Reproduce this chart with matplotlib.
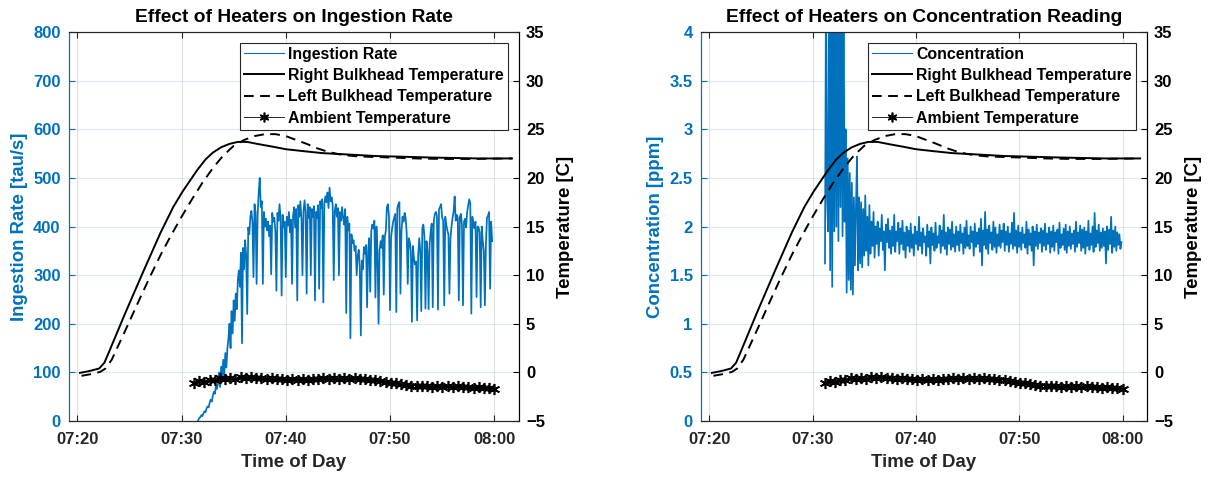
import matplotlib.pyplot as plt
import numpy as np
from matplotlib.ticker import FuncFormatter

plt.rcParams['font.family'] = ['Liberation Sans', 'DejaVu Sans']
plt.rcParams['font.weight'] = 'bold'
plt.rcParams['axes.titleweight'] = 'bold'
plt.rcParams['axes.labelweight'] = 'bold'

# time axis in minutes after 07:00
tick_min = [20, 30, 40, 50, 60]
tick_lbl = ['07:20', '07:30', '07:40', '07:50', '08:00']

# right bulkhead temperature [C]
rbh_t = [20.25, 21.2, 22.1, 22.6, 23.0, 24.6, 26.3, 28.0, 29.2, 30.1, 30.8, 31.5, 32.3, 33.0,
         33.8, 34.6, 35.4, 36.3, 37.5, 38.8, 40.0, 41.7, 43.5, 45.2, 46.9, 48.6, 50.4, 52.1,
         53.8, 56.0, 58.5, 61.7]
rbh_v = [-0.05, 0.15, 0.4, 1.0, 2.0, 6.1, 10.3, 14.4, 17.0, 18.6, 19.7, 20.8, 21.9, 22.6,
         23.15, 23.5, 23.7, 23.7, 23.45, 23.2, 22.95, 22.75, 22.55, 22.45, 22.35, 22.25, 22.2,
         22.15, 22.1, 22.05, 22.0, 22.0]

# left bulkhead temperature [C]
lbh_t = [20.4, 21.2, 22.2, 22.7, 23.3, 24.9, 26.0, 27.0, 28.0, 29.0, 30.0, 31.0, 32.0, 33.0,
         34.0, 35.0, 36.0, 37.0, 38.0, 39.0, 40.0, 41.0, 42.0, 43.0, 44.0, 45.0, 46.0, 47.0,
         48.5, 50.0, 52.5, 55.0, 58.0, 61.7]
lbh_v = [-0.35, -0.2, 0.05, 0.4, 1.3, 5.0, 7.6, 9.9, 12.1, 14.1, 16.0, 17.8, 19.5, 21.0,
         22.3, 23.3, 23.9, 24.3, 24.5, 24.5, 24.3, 23.9, 23.5, 23.05, 22.7, 22.45, 22.3, 22.2,
         22.15, 22.1, 22.0, 21.95, 21.95, 22.0]

# ambient temperature [C], 07:31.2 - 08:00
amb_v = [-1.05, -0.90, -0.95, -0.75, -0.80, -0.62, -0.70, -0.58, -0.66, -0.52,
         -0.60, -0.48, -0.58, -0.55, -0.66, -0.60, -0.72, -0.66, -0.76, -0.70,
         -0.78, -0.72, -0.76, -0.68, -0.72, -0.60, -0.66, -0.58, -0.66, -0.58,
         -0.68, -0.62, -0.70, -0.66, -0.76, -0.80, -0.92, -0.96, -1.08, -1.10,
         -1.22, -1.26, -1.36, -1.38, -1.45, -1.42, -1.48, -1.42, -1.46, -1.40,
         -1.46, -1.42, -1.50, -1.48, -1.56, -1.55, -1.62, -1.60, -1.66]
amb_t = np.linspace(31.2, 60.0, len(amb_v))

# ingestion rate [tau/s], 07:31.5 - 07:59.8
ing_v = [-4, 2, 6, 8, 12, 10, 16, 20, 18, 26,
         30, 28, 38, 44, 40, 52, 60, 56, 72, 66,
         78, 100, 70, 112, 84, 126, 96, 140, 110, 150,
         170, 200, 150, 226, 180, 248, 206, 262, 230, 290,
         310, 276, 346, 160, 356, 312, 372, 340, 220, 398,
         384, 420, 432, 410, 296, 446, 430, 282, 424, 470,
         500, 440, 452, 282, 430, 400, 416, 392, 410, 380,
         402, 302, 428, 410, 418, 390, 268, 428, 412, 446,
         418, 258, 424, 398, 410, 296, 420, 402, 430, 388,
         414, 282, 422, 440, 398, 436, 248, 444, 420, 452,
         416, 300, 432, 454, 428, 262, 446, 418, 440, 300,
         436, 420, 442, 248, 430, 418, 444, 272, 452, 438,
         456, 244, 446, 462, 450, 470, 438, 480, 452, 460,
         444, 290, 432, 446, 420, 438, 300, 430, 412, 440,
         418, 404, 436, 222, 420, 392, 406, 170, 384, 366,
         372, 350, 360, 300, 340, 352, 318, 176, 330, 312,
         358, 344, 362, 234, 350, 376, 266, 390, 404, 396,
         412, 254, 400, 344, 200, 352, 370, 356, 382, 260,
         378, 392, 440, 446, 420, 228, 378, 396, 410, 418,
         426, 224, 438, 446, 450, 262, 392, 420, 410, 428,
         418, 386, 282, 376, 368, 350, 204, 360, 334, 322,
         328, 207, 340, 376, 352, 226, 396, 404, 380, 231,
         370, 350, 230, 364, 390, 406, 234, 412, 426, 430,
         422, 229, 436, 440, 446, 418, 412, 238, 420, 404,
         392, 384, 262, 376, 400, 418, 430, 462, 412, 424,
         418, 248, 420, 426, 404, 238, 410, 416, 398, 430,
         444, 456, 448, 221, 420, 404, 396, 410, 255, 400,
         398, 388, 234, 400, 370, 350, 238, 364, 418, 422,
         430, 272, 410, 370]
ing_t = np.linspace(31.5, 59.8, len(ing_v))

# concentration [ppm], 07:31.2 - 07:59.9
con_v = [1.62, 4.6, 2.30, 1.95, 4.6, 1.55, 4.6, 1.38, 4.6, 1.95,
         4.6, 2.00, 4.6, 1.85, 4.6, 2.20, 4.6, 1.90, 4.6, 2.05,
         3.00, 1.32, 2.70, 1.45, 2.55, 1.35, 2.45, 1.30, 2.30, 1.60,
         2.20, 2.72, 1.55, 2.30, 1.62, 2.25, 1.58, 2.18, 1.70, 2.32,
         1.75, 2.10, 1.60, 2.22, 1.72, 2.05, 1.80, 2.15, 1.68, 2.00,
         1.82, 2.05, 1.70, 1.98, 1.85, 2.12, 1.76, 1.95, 1.55, 2.02,
         1.84, 2.08, 1.78, 1.96, 1.72, 2.00, 1.80, 2.12, 1.74, 1.95,
         1.85, 2.04, 1.72, 1.98, 1.82, 2.06, 1.76, 1.94, 1.68, 2.00,
         1.80, 1.96, 1.74, 2.03, 1.78, 1.92, 1.70, 2.00, 1.82, 1.95,
         1.76, 2.10, 1.80, 1.94, 1.72, 1.98, 1.84, 1.90, 1.70, 2.02,
         1.79, 1.95, 1.62, 1.99, 1.81, 1.93, 1.75, 2.04, 1.78, 1.90,
         1.83, 2.01, 1.73, 1.96, 1.80, 2.12, 1.77, 1.94, 1.71, 1.99,
         1.82, 1.97, 1.76, 2.05, 1.79, 1.92, 1.74, 2.00, 1.81, 1.95,
         1.75, 2.02, 1.83, 1.93, 1.72, 1.99, 1.78, 2.06, 1.80, 1.91,
         1.77, 2.00, 1.84, 1.95, 1.70, 2.03, 1.79, 1.94, 1.82, 1.98,
         1.74, 2.08, 1.60, 1.96, 1.81, 2.15, 1.77, 1.97, 1.72, 2.01,
         1.83, 1.94, 1.76, 2.05, 1.79, 1.99, 1.73, 1.92, 1.80, 2.02,
         1.78, 1.96, 1.84, 2.03, 1.75, 1.95, 1.81, 2.00, 1.74, 1.93,
         1.82, 2.04, 1.77, 2.14, 1.80, 1.96, 1.73, 2.01, 1.79, 1.94,
         1.76, 1.99, 1.83, 1.92, 1.78, 2.05, 1.72, 1.97, 1.81, 1.93,
         1.75, 2.00, 1.60, 1.95, 1.80, 2.02, 1.77, 1.94, 1.83, 1.98,
         1.74, 1.96, 1.80, 2.03, 1.76, 1.93, 1.82, 1.99, 1.73, 1.95,
         1.79, 2.01, 1.75, 1.94, 1.84, 1.97, 1.72, 2.04, 1.78, 1.92,
         1.81, 1.98, 1.76, 2.02, 1.73, 1.95, 1.80, 2.00, 1.77, 1.93,
         1.82, 1.96, 1.74, 2.05, 1.79, 1.94, 1.83, 2.01, 1.75, 1.97,
         1.78, 1.99, 1.72, 1.95, 1.80, 2.06, 1.76, 1.93, 1.81, 2.00,
         1.74, 2.14, 1.79, 1.96, 1.83, 2.02, 1.75, 1.94, 1.78, 1.98,
         1.80, 1.95, 1.62, 2.00, 1.76, 1.97, 1.82, 2.10, 1.73, 1.96,
         1.79, 2.00, 1.75, 1.94, 1.81, 1.92, 1.77, 1.84]
con_t = np.linspace(31.2, 59.9, len(con_v))

blue = '#0072BD'
dark = '#262626'
asterisk = (6, 2, 0)

fig = plt.figure(figsize=(12.08, 4.78), dpi=100)


def panel(rect, t, v, name, ylabel, ylim, yticks, title):
    ax = fig.add_axes(rect)
    ax.plot(t, v, color=blue, lw=1.25, label=name)
    ax.set_xlim(19.2, 62.37)
    ax.set_ylim(*ylim)
    ax.set_yticks(yticks)
    ax.yaxis.set_major_formatter(FuncFormatter(lambda x, p: '%g' % x))
    ax.set_xticks(tick_min)
    ax.set_xticklabels(tick_lbl)
    ax.grid(axis='x', color=dark, alpha=0.13, lw=0.8)
    ax.grid(axis='y', color=blue, alpha=0.15, lw=0.8)
    ax.set_axisbelow(True)
    ax.tick_params(axis='x', direction='in', length=4, top=True, labelsize=12,
                   colors=dark, pad=8)
    ax.tick_params(axis='y', direction='in', length=4, labelsize=12, colors=blue, pad=6)
    ax.set_ylabel(ylabel, color=blue, fontsize=13.4, labelpad=4)
    ax.set_xlabel('Time of Day', color=dark, fontsize=13.4, labelpad=5)
    ax.set_title(title, fontsize=13.8, pad=7, color='black')
    ax.spines['left'].set_color(blue)
    ax.spines['bottom'].set_color(dark)
    ax.spines['top'].set_color(dark)

    ax2 = ax.twinx()
    ax2.plot(rbh_t, rbh_v, color='black', lw=1.4, label='Right Bulkhead Temperature')
    ax2.plot(lbh_t, lbh_v, color='black', lw=1.4, ls=(0, (5, 3.3)),
             label='Left Bulkhead Temperature')
    ax2.plot(amb_t, amb_v, color='black', lw=0.6, marker=asterisk, ms=8, mew=1.2,
             label='Ambient Temperature')
    ax2.set_ylim(-5, 35)
    ax2.set_yticks(np.arange(-5, 36, 5))
    ax2.tick_params(axis='y', direction='in', length=4, labelsize=12, colors='black', pad=5)
    ax2.set_ylabel('Temperature [C]', color='black', fontsize=13.4, labelpad=9)
    ax2.spines['right'].set_color('black')
    ax2.spines['left'].set_color(blue)
    ax2.spines['top'].set_color(dark)
    ax2.spines['bottom'].set_color(dark)

    h1, l1 = ax.get_legend_handles_labels()
    h2, l2 = ax2.get_legend_handles_labels()
    leg = ax2.legend(h1 + h2, l1 + l2, loc='upper right', bbox_to_anchor=(0.975, 0.9725),
                     borderaxespad=0, fontsize=11.4, handlelength=2.55, handletextpad=0.25,
                     borderpad=0.25, labelspacing=0.4, numpoints=1, fancybox=False,
                     framealpha=1, edgecolor=dark)
    leg.get_frame().set_linewidth(0.8)
    leg.get_lines()[0].set_linewidth(0.8)
    leg.get_lines()[3].set_markersize(7)
    return ax, ax2


panel([0.0571, 0.1192, 0.3725, 0.8138], ing_t, ing_v, 'Ingestion Rate',
      'Ingestion Rate [tau/s]', (0, 800), np.arange(0, 801, 100),
      'Effect of Heaters on Ingestion Rate')
panel([0.5803, 0.1192, 0.3692, 0.8138], con_t, con_v, 'Concentration',
      'Concentration [ppm]', (0, 4), np.arange(0, 4.01, 0.5),
      'Effect of Heaters on Concentration Reading')

fig.savefig('out.png', dpi=100)
